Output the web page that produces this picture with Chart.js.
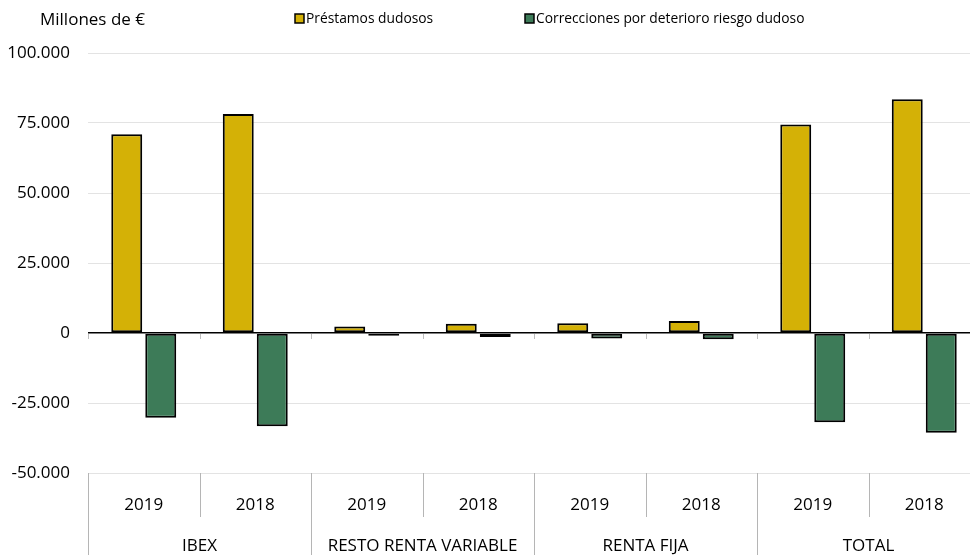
<!DOCTYPE html>
<html>
<head>
<meta charset="utf-8">
<script src="https://cdn.jsdelivr.net/npm/chart.js@4"></script>
<style>
  html, body { margin: 0; padding: 0; background: #fff; overflow: hidden; }
  #wrap { width: 985px; height: 555px; }
</style>
</head>
<body>
<div id="wrap"><canvas id="chart" width="985" height="555"></canvas></div>
<script>
'use strict';

// ── Data
const years = ['2019', '2018', '2019', '2018', '2019', '2018', '2019', '2018'];
const groups = ['IBEX', 'RESTO RENTA VARIABLE', 'RENTA FIJA', 'TOTAL'];
const prestamos = [71000, 78200, 2300, 3300, 3500, 4300, 74500, 83500];
const correcciones = [-30300, -33300, -1000, -1400, -2000, -2250, -31900, -35600];
const yTicks = [-50000, -25000, 0, 25000, 50000, 75000, 100000];

const YELLOW = '#d4b106';
const GREEN = '#3d7b58';
const FONT = "'Open Sans', sans-serif";

function fmt(v) {
    return String(v).replace(/\B(?=(\d{3})+(?!\d))/g, '.');
}

// title, legend, zero-line ticks and the category dividers
const decorPlugin = {
    id: 'decor',
    afterDraw(chart) {
        const ctx = chart.ctx;
        const x = chart.scales.x;
        const y = chart.scales.y;
        const area = chart.chartArea;
        const half = (x.getPixelForValue(1) - x.getPixelForValue(0)) / 2;
        const zero = y.getPixelForValue(0);

        ctx.save();
        ctx.fillStyle = '#000';
        ctx.textBaseline = 'middle';
        ctx.font = `17px ${FONT}`;
        ctx.fillText('Millones de €', 40, 20);

        // legend
        ctx.font = `13.8px ${FONT}`;
        const legendX = [295, 525];
        chart.data.datasets.forEach((ds, i) => {
            ctx.fillStyle = ds.backgroundColor;
            ctx.fillRect(legendX[i], 14, 9, 9);
            ctx.strokeStyle = '#000';
            ctx.lineWidth = 1.5;
            ctx.strokeRect(legendX[i], 14, 9, 9);
            ctx.fillStyle = '#000';
            ctx.fillText(ds.label, legendX[i] + 11, 19);
        });

        // small ticks under the zero line
        ctx.strokeStyle = '#bdbdbd';
        ctx.lineWidth = 1;
        for (let i = 0; i <= years.length; i++) {
            const px = Math.round(x.getPixelForValue(i) - half) + 0.5;
            ctx.beginPath();
            ctx.moveTo(px, zero + 1);
            ctx.lineTo(px, zero + 6);
            ctx.stroke();
        }

        // dividers below the plot
        ctx.strokeStyle = '#b5b5b5';
        for (let i = 0; i <= years.length; i++) {
            const px = Math.round(x.getPixelForValue(i) - half) + 0.5;
            const bottom = (i % 2 === 0) ? chart.height : area.bottom + 44;
            ctx.beginPath();
            ctx.moveTo(px, area.bottom);
            ctx.lineTo(px, bottom);
            ctx.stroke();
        }
        ctx.restore();
    }
};

new Chart(document.getElementById('chart'), {
    type: 'bar',
    data: {
        labels: years,
        datasets: [{
            label: 'Préstamos dudosos',
            data: prestamos,
            backgroundColor: YELLOW,
            borderColor: '#000',
            borderWidth: 2,
            borderSkipped: false
        }, {
            label: 'Correcciones por deterioro riesgo dudoso',
            data: correcciones,
            backgroundColor: GREEN,
            borderColor: '#000',
            borderWidth: 2,
            borderSkipped: false
        }]
    },
    options: {
        responsive: false,
        animation: false,
        categoryPercentage: 0.61,
        barPercentage: 0.91,
        layout: { padding: { top: 53, right: 5, left: 0, bottom: 0 } },
        plugins: {
            legend: { display: false },
            title: { display: false },
            tooltip: { enabled: false }
        },
        scales: {
            y: {
                min: -50000,
                max: 100000,
                afterFit: s => { s.width = 88; },
                afterBuildTicks: s => { s.ticks = yTicks.map(v => ({ value: v })); },
                grid: {
                    drawTicks: false,
                    color: ctx => ctx.tick.value === 0 ? '#000' : '#e3e3e3',
                    lineWidth: ctx => ctx.tick.value === 0 ? 1.5 : 1
                },
                border: { display: false },
                ticks: {
                    padding: 18,
                    color: '#000',
                    font: { family: FONT, size: 17 },
                    callback: v => fmt(v)
                }
            },
            x: {
                position: 'bottom',
                afterFit: s => { s.height = 44; },
                grid: { display: false, drawTicks: false },
                border: { display: false },
                ticks: {
                    padding: 22,
                    color: '#000',
                    font: { family: FONT, size: 17 }
                }
            },
            x2: {
                type: 'category',
                labels: groups,
                position: 'bottom',
                offset: true,
                afterFit: s => { s.height = 38; },
                grid: { display: false, drawTicks: false },
                border: { display: false },
                ticks: {
                    padding: 19,
                    color: '#000',
                    font: { family: FONT, size: 17 }
                }
            }
        }
    },
    plugins: [decorPlugin]
});
</script>
</body>
</html>
